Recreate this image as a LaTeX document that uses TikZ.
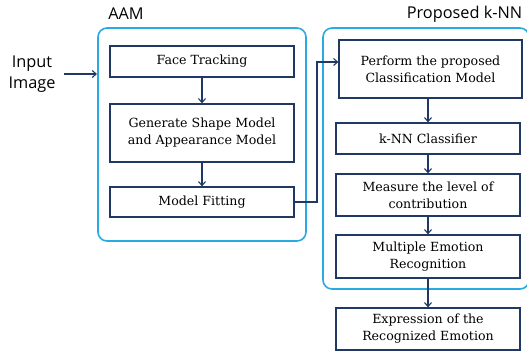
\documentclass[tikz,border=0pt]{standalone}
\usepackage{fontspec}
\setmainfont{DejaVu Serif}
\newfontfamily\labelfont{Open Sans}
\usetikzlibrary{arrows.meta}
\definecolor{navy}{RGB}{31,56,100}
\definecolor{skyline}{RGB}{41,170,226}
\tikzset{
  stepbox/.style={draw=navy, line width=1.3pt, fill=white, align=center,
    font=\fontsize{12.6}{17}\selectfont, inner sep=0pt},
  group/.style={draw=skyline, line width=1.6pt, rounded corners=9pt},
  flow/.style={draw=navy, line width=1.1pt, -{Straight Barb[length=4pt,width=7pt]}},
  caption/.style={font=\labelfont\fontsize{16.3}{21}\selectfont, inner sep=0pt, align=center}
}
\begin{document}
\begin{tikzpicture}[x=1pt,y=-1pt]
\useasboundingbox (0,0) rectangle (527,351);

% grouping frames
\draw[group] (98,28) rectangle (306,241);
\draw[group] (323,28) rectangle (529,289);
\node[caption] (aamlbl) at (126,14) {AAM};
\node[caption] (knnlbl) at (464.5,14) {Proposed k-NN};

% input
\node[caption] (input) at (32,74) {Input\\Image};
\coordinate (aamin) at (97,74);

% AAM steps
\node[stepbox, minimum width=184pt, minimum height=31pt] (track) at (202,61.5) {Face Tracking};
\node[stepbox, minimum width=184pt, minimum height=58pt] (shape) at (202,133) {Generate Shape Model\\and Appearance Model};
\node[stepbox, minimum width=184pt, minimum height=30pt] (fit) at (202,202) {Model Fitting};

% proposed k-NN steps
\node[stepbox, minimum width=183pt, minimum height=58pt] (perform) at (430.5,69) {Perform the proposed\\Classification Model};
\node[stepbox, minimum width=184pt, minimum height=31pt] (knn) at (428,138.5) {k-NN Classifier};
\node[stepbox, minimum width=184pt, minimum height=42pt] (measure) at (428,195) {Measure the level of\\contribution};
\node[stepbox, minimum width=184pt, minimum height=43pt] (multi) at (428,256.5) {Multiple Emotion\\Recognition};
\node[stepbox, minimum width=184pt, minimum height=42pt] (expr) at (428,329) {Expression of the\\Recognized Emotion};

% connectors
\draw[flow] (64,74) -- (aamin);
\draw[flow] (track) -- (shape);
\draw[flow] (shape) -- (fit);
\draw[flow] (fit.east) -- (317,202) |- (perform.west|-0,62);
\draw[flow] (perform.south-|knn) -- (knn);
\draw[flow] (knn) -- (measure);
\draw[flow] (measure) -- (multi);
\draw[flow] (multi) -- (expr);
\end{tikzpicture}
\end{document}
